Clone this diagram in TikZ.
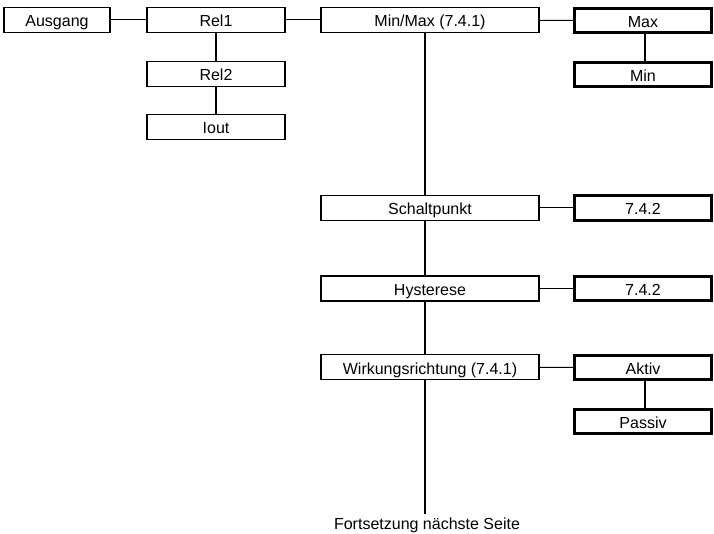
\documentclass[tikz,border=0pt]{standalone}
\usepackage{fontspec}
\setmainfont{Liberation Sans}
\begin{document}
\begin{tikzpicture}[x=1pt,y=-1pt,
menu/.style={
% The shape:
rectangle,
draw=black,
line width=1.8pt,
minimum width=138pt,
minimum height=25pt,
inner sep=0pt,
text height=14pt,
text depth=0pt,
font=\fontsize{16}{19}\selectfont
},
wide/.style={menu,minimum width=218pt},
leaf/.style={menu,line width=2.8pt,minimum width=137pt,minimum height=24.5pt},
hline/.style={line width=1pt},
vline/.style={line width=2pt},
coord/.style={coordinate}
]
\useasboundingbox (0,0) rectangle (714,534);
% Left part:
\node (ausgang) [menu,minimum width=106pt] at (57,20) {Ausgang};
\node (rel1) [menu] at (216,20) {Rel1};
\node (rel2) [menu] at (216,74) {Rel2};
\node (iout) [menu] at (216,127) {Iout};
% Middle column:
\node (minmax) [wide] at (430,20) {Min/Max (7.4.1)};
\node (schalt) [wide] at (430,208) {Schaltpunkt};
\node (hyst) [wide] at (430,288.5) {Hysterese};
\node (wirk) [wide] at (430,367) {Wirkungsrichtung (7.4.1)};
\node (end1) [coord] at (425,514) {};
\node (weiter) at (427,525.5) {\fontsize{16}{19}\selectfont Fortsetzung nächste Seite};
% Right column:
\node (max) [leaf] at (643,20.5) {Max};
\node (min) [leaf] at (643,74.5) {Min};
\node (sp742) [leaf] at (643,208) {7.4.2};
\node (hy742) [leaf] at (643,288.5) {7.4.2};
\node (aktiv) [leaf] at (643,367.5) {Aktiv};
\node (passiv) [leaf] at (643,421.5) {Passiv};
\path[hline] (ausgang) edge (rel1) (rel1) edge (minmax) (minmax) edge (max)
(schalt) edge (sp742) (hyst) edge (hy742) (wirk) edge (aktiv);
\path[vline] (rel1) edge (rel2) (rel2) edge (iout) ([xshift=2pt]max.south) edge ([xshift=2pt]min.north)
([xshift=2pt]aktiv.south) edge ([xshift=2pt]passiv.north);
\draw[vline] ([xshift=-5pt]minmax.south) -- ([xshift=-5pt]schalt.north)
([xshift=-5pt]schalt.south) -- ([xshift=-5pt]hyst.north)
([xshift=-5pt]hyst.south) -- ([xshift=-5pt]wirk.north)
([xshift=-5pt]wirk.south) -- (end1);
\end{tikzpicture}
\end{document}
